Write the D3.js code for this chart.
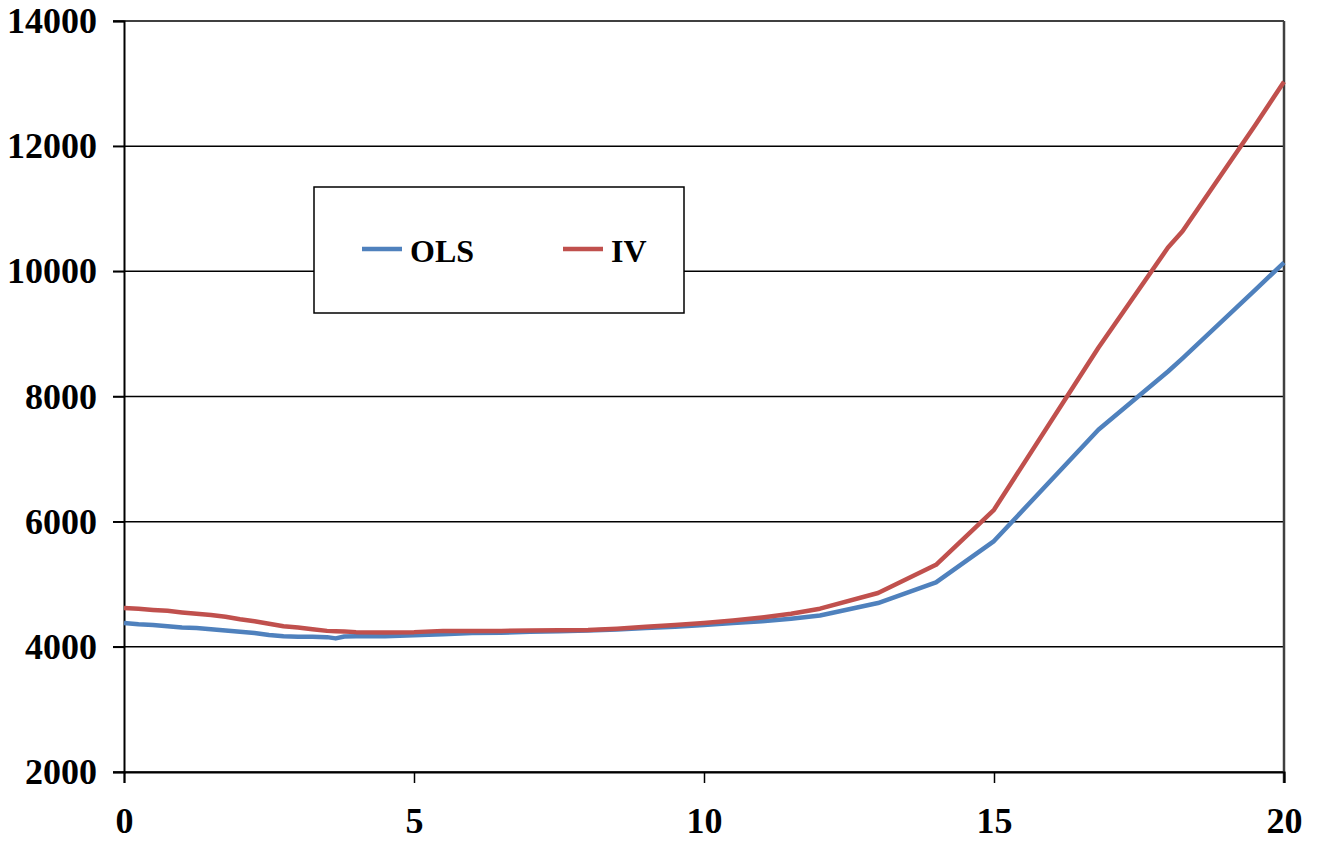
<!DOCTYPE html>
<html>
<head>
<meta charset="utf-8">
<script src="https://cdn.jsdelivr.net/npm/d3@7"></script>
<style>
  body { margin: 0; background: #fff; }
  svg text { font-family: "Liberation Serif", "Times New Roman", serif; font-weight: bold; }
</style>
</head>
<body>
<div id="chart"></div>
<script>
const xs = [0, 0.25, 0.5, 0.75, 1, 1.25, 1.5, 1.75, 2, 2.25, 2.5, 2.75, 3, 3.25, 3.5, 3.65, 3.8, 4, 4.5,
    5, 5.5, 6, 6.5, 7, 7.5, 8, 8.5, 9, 9.5, 10, 10.5, 11, 11.5, 12, 13, 14, 15, 16.8, 18, 18.25, 19.5, 20];
const ols = [4380, 4360, 4350, 4330, 4310, 4300, 4280, 4260, 4240, 4220, 4190, 4170, 4160, 4160, 4155, 4135, 4165, 4170, 4170,
    4185, 4200, 4220, 4225, 4240, 4250, 4260, 4275, 4300, 4320, 4350, 4380, 4410, 4450, 4500, 4700, 5030, 5690, 7470, 8400, 8610, 9700, 10140];
const iv = [4620, 4610, 4590, 4575, 4550, 4530, 4510, 4480, 4440, 4410, 4370, 4330, 4310, 4280, 4255, 4250, 4245, 4235, 4230,
    4235, 4255, 4255, 4255, 4260, 4265, 4270, 4290, 4320, 4350, 4380, 4420, 4470, 4530, 4610, 4860, 5310, 6190, 8780, 10380, 10640, 12330, 13030];
const seriesNames = ["OLS", "IV"];
const seriesColors = ["#4F81BD", "#C0504D"];
const yTicks = [2000, 4000, 6000, 8000, 10000, 12000, 14000];
const xTicks = [0, 5, 10, 15, 20];

const width = 1319, height = 842;
const svg = d3.select("#chart").append("svg")
    .attr("width", width)
    .attr("height", height);

const x = d3.scaleLinear().domain([0, 20]).range([124, 1284]);
const y = d3.scaleLinear().domain([2000, 14000]).range([772, 21]);

// gridlines
svg.append("g")
    .selectAll("line")
    .data(yTicks)
    .join("line")
    .attr("x1", 113).attr("x2", 1284)
    .attr("y1", d => y(d)).attr("y2", d => y(d))
    .attr("stroke", "#000")
    .attr("stroke-width", 1.5);

// right border
svg.append("line")
    .attr("x1", 1284).attr("x2", 1284)
    .attr("y1", y(14000)).attr("y2", 783)
    .attr("stroke", "#404040")
    .attr("stroke-width", 2.5);

// y axis
const yAxis = svg.append("g")
    .attr("transform", "translate(124,0)")
    .call(d3.axisLeft(y).tickValues(yTicks).tickSize(11).tickPadding(16).tickFormat(d3.format("d")));
yAxis.select(".domain").attr("stroke", "#000").attr("stroke-width", 2);
yAxis.selectAll(".tick line").attr("stroke-width", 1.5);
yAxis.selectAll("text").attr("font-size", 36).attr("fill", "#000")
    .attr("font-family", "Liberation Serif, serif").attr("font-weight", "bold");

// x axis
const xAxis = svg.append("g")
    .attr("transform", "translate(0,772)")
    .call(d3.axisBottom(x).tickValues(xTicks).tickSize(11).tickPadding(24).tickFormat(d3.format("d")));
xAxis.select(".domain").attr("stroke", "#000").attr("stroke-width", 2);
xAxis.selectAll(".tick line").attr("stroke-width", 1.5);
xAxis.selectAll("text").attr("font-size", 36).attr("fill", "#000")
    .attr("font-family", "Liberation Serif, serif").attr("font-weight", "bold");

// lines
const line = d3.line()
    .x((d, i) => x(xs[i]))
    .y(d => y(d));

[ols, iv].forEach((vals, i) => {
    svg.append("path")
        .datum(vals)
        .attr("fill", "none")
        .attr("stroke", seriesColors[i])
        .attr("stroke-width", 4.5)
        .attr("stroke-linejoin", "round")
        .attr("d", line);
});

// legend
const legend = svg.append("g");
legend.append("rect")
    .attr("x", 314).attr("y", 187)
    .attr("width", 370).attr("height", 126)
    .attr("fill", "#fff")
    .attr("stroke", "#000")
    .attr("stroke-width", 1.5);

const legendX = [362, 563];
seriesNames.forEach((name, i) => {
    legend.append("line")
        .attr("x1", legendX[i]).attr("x2", legendX[i] + 40)
        .attr("y1", 249).attr("y2", 249)
        .attr("stroke", seriesColors[i])
        .attr("stroke-width", 4.5);
    legend.append("text")
        .attr("x", legendX[i] + 48)
        .attr("y", 262)
        .attr("font-size", 32)
        .attr("fill", "#000")
        .text(name);
});
</script>
</body>
</html>
